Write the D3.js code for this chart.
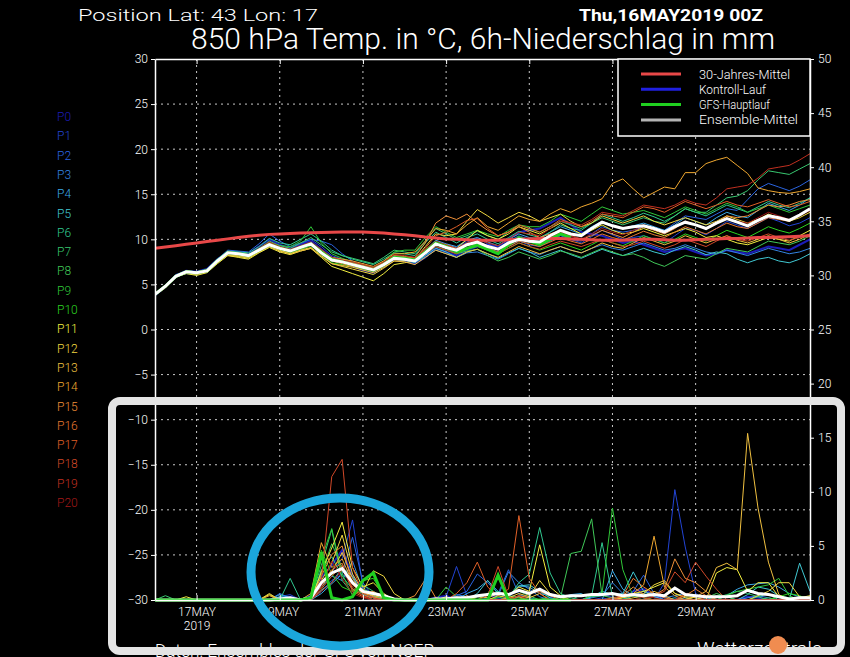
<!DOCTYPE html>
<html>
<head>
<meta charset="utf-8">
<script src="https://cdnjs.cloudflare.com/ajax/libs/d3/7.8.5/d3.min.js"></script>
<style>
body { margin: 0; background: #000; overflow: hidden; }
text { font-family: Roboto, "DejaVu Sans", sans-serif; font-weight: 300; }
</style>
</head>
<body>
<div id="chart"></div>
<script>
// run start, 6-hourly steps
var runStart = "16MAY2019 00"
var dayTicks = ["17MAY", "19MAY", "21MAY", "23MAY", "25MAY", "27MAY", "29MAY"]
var tempTicks = [-30, -25, -20, -15, -10, -5, 0, 5, 10, 15, 20, 25, 30]
var precTicks = [0, 5, 10, 15, 20, 25, 30, 35, 40, 45, 50]

var members = ["P0","P1","P2","P3","P4","P5","P6","P7","P8","P9","P10","P11","P12","P13","P14","P15","P16","P17","P18","P19","P20"]
var memberColors = ["#1c1cb8","#2244d4","#2a64e0","#3484e2","#3caae8","#40c8d2","#30c890","#38c870","#40c858","#30c838","#2cd420",
                    "#f4f040","#f0d840","#f0c040","#f0a830","#f09038","#e87830","#e06028","#d04828","#c03020","#a01818"]

var legendNames = ["30-Jahres-Mittel", "Kontroll-Lauf", "GFS-Hauptlauf", "Ensemble-Mittel"]
var legendColors = ["#e84848", "#2020e0", "#20d020", "#b4b4b4"]

// 850 hPa temperature, degC
var temp00 = [3.8,4.7,6.0,6.5,6.4,6.7,7.8,8.6, 8.6,8.4,9.2,10.0,9.4,9.0,9.4,9.8, 8.9,8.0,7.6,7.0,6.6,6.3,7.0,7.8, 7.6,7.3,8.0,9.0,8.6,8.2,8.8,9.2,
              9.4,9.2,10.0,10.8,11.0,11.2,11.8,12.4, 11.6,10.8,10.6,10.4,10.0,9.6,9.8,9.4, 9.0,8.6,8.8,9.0,8.6,8.2,8.4,8.8, 8.6,8.4,8.8,9.2,9.0,8.8,9.4,10.0]
var temp01 = [4.0,4.9,6.1,6.4,6.2,6.6,7.7,8.6, 8.5,8.3,9.0,9.7,9.3,9.0,9.5,10.0, 9.2,8.2,7.8,7.4,7.0,6.8,7.4,8.1, 8.0,7.8,8.8,9.8,9.4,9.1,9.7,10.1,
              9.5,9.0,9.8,10.4,10.0,9.6,10.0,10.5, 10.0,9.6,10.3,11.0,10.5,10.0,10.2,10.4, 10.0,9.6,10.4,11.2,11.0,10.5,11.2,12.0, 11.6,11.2,11.8,12.4,12.0,11.5,11.8,12.4]
var temp02 = [3.9,4.8,5.9,6.3,6.2,6.5,7.8,8.8, 8.7,8.6,9.5,10.6,9.8,9.2,9.6,10.0, 9.8,9.4,8.4,7.6,7.0,6.7,7.3,8.0, 7.8,7.5,8.2,9.2,8.8,8.5,9.0,9.5,
              9.0,8.6,9.2,9.8,9.4,9.2,9.8,10.4, 10.0,9.8,10.6,11.4,11.0,10.8,11.0,11.4, 11.2,11.0,11.8,12.6,12.4,12.2,12.8,13.4, 13.2,14.4,15.6,16.2,15.8,15.4,15.9,16.6]
var temp03 = [3.9,4.7,5.8,6.2,6.1,6.4,7.5,8.4, 8.3,8.1,8.7,9.3,8.9,8.6,9.0,9.4, 8.6,7.8,7.5,7.2,6.9,6.5,7.1,7.8, 7.7,7.5,8.0,8.8,8.4,8.0,8.5,8.6,
              8.2,7.8,8.4,9.0,8.6,8.3,8.8,9.2, 8.8,8.5,9.0,9.4,9.0,8.8,9.2,9.6, 9.2,8.8,9.0,9.4,9.0,8.6,8.4,8.8, 8.5,8.2,8.6,9.0,8.7,8.4,8.6,9.0]
var temp04 = [4.0,4.8,6.0,6.5,6.4,6.6,7.7,8.5, 8.4,8.3,8.9,9.5,9.1,8.8,9.2,9.6, 8.8,8.0,7.7,7.4,7.1,6.8,7.4,8.2, 8.0,7.8,8.8,9.9,9.5,9.2,9.9,10.2,
              9.7,9.3,10.0,10.6,10.2,10.0,10.8,11.4, 11.0,10.6,11.4,12.0,11.6,11.2,11.5,11.8, 11.4,11.0,11.6,12.4,12.0,11.6,12.4,13.0, 12.6,12.4,13.2,14.0,13.6,13.2,13.8,14.6]
var temp05 = [3.9,4.7,5.9,6.4,6.3,6.5,7.5,8.3, 8.2,8.0,8.7,9.4,8.9,8.5,8.9,9.3, 8.4,7.6,7.4,7.2,6.9,6.7,7.2,7.9, 7.7,7.4,8.2,9.0,8.6,8.0,8.6,8.9,
              8.4,7.9,8.5,9.0,8.6,8.0,8.4,8.8, 8.3,7.9,8.4,8.9,8.5,8.2,8.6,9.0, 8.6,8.3,8.8,9.2,8.8,8.3,8.6,8.4, 7.8,7.4,7.8,8.0,7.6,7.4,7.8,8.4]
var temp06 = [4.0,4.9,6.0,6.5,6.4,6.7,7.8,8.7, 8.6,8.5,9.2,10.1,9.6,9.4,10.0,10.6, 9.8,8.8,8.2,7.8,7.5,7.2,7.8,8.5, 8.4,8.2,9.6,10.8,10.2,9.6,10.2,10.6,
              10.0,9.5,10.2,10.9,10.5,10.2,10.8,11.6, 11.2,11.0,11.8,12.8,12.4,12.0,12.4,12.9, 12.5,12.0,12.6,13.4,13.0,12.6,13.2,13.8, 13.4,13.0,13.6,14.2,13.8,13.5,14.0,14.6]
var temp07 = [3.9,4.8,5.9,6.4,6.2,6.4,7.6,8.6, 8.5,8.3,9.0,9.8,9.3,9.0,9.6,10.2, 9.4,8.6,8.2,7.9,7.6,7.3,8.0,8.8, 8.6,8.4,9.8,11.2,10.6,10.0,10.4,10.9,
              10.4,10.0,10.8,11.6,11.2,10.8,11.4,12.0, 11.6,11.2,11.8,12.4,12.0,11.6,12.0,12.4, 12.0,11.8,12.6,13.4,13.0,13.0,13.8,14.6, 14.8,15.4,16.6,17.6,17.4,17.2,17.8,18.4]
var temp08 = [4.0,4.8,6.0,6.4,6.3,6.5,7.6,8.5, 8.4,8.2,8.8,9.5,9.0,8.7,9.1,9.5, 8.6,7.8,7.6,7.3,7.0,6.8,7.4,8.2, 8.1,7.9,8.7,9.6,9.0,8.4,8.7,8.9,
              8.2,7.6,8.0,8.6,8.2,7.8,8.2,8.7, 8.4,8.0,8.5,9.0,8.6,8.2,8.4,8.0, 7.4,7.0,7.6,8.2,8.0,7.8,8.4,9.0, 8.8,8.6,9.2,9.8,9.6,9.4,9.8,10.4]
var temp09 = [3.9,4.8,5.9,6.3,6.2,6.5,7.5,8.4, 8.3,8.2,8.9,9.6,9.3,9.2,9.8,11.4, 9.6,8.4,7.9,7.5,7.2,6.9,7.6,8.6, 8.8,8.8,10.2,11.4,10.8,10.2,10.6,11.0,
              10.6,10.3,11.0,11.6,11.4,11.4,12.0,12.8, 12.4,12.0,12.8,13.6,13.2,12.8,13.0,13.2, 12.8,12.4,13.0,13.6,13.2,12.8,13.4,14.0, 13.6,13.0,13.4,13.8,13.4,13.0,13.4,13.8]
var temp10 = [3.9,4.7,5.8,6.3,6.2,6.4,7.4,8.3, 8.2,8.0,8.6,9.2,8.8,8.5,8.9,9.3, 8.3,7.4,7.2,7.0,6.7,6.4,7.0,7.8, 7.7,7.5,8.4,9.2,8.8,8.4,8.9,9.2,
              8.8,8.4,9.0,9.6,9.2,8.8,9.2,9.6, 9.2,8.8,9.4,10.0,9.6,9.3,9.8,10.4, 10.0,9.6,10.0,10.6,10.2,9.8,10.4,11.0, 10.6,10.2,10.8,11.4,11.0,10.7,11.2,11.8]
var temp11 = [3.8,4.6,5.8,6.2,6.0,6.3,7.3,8.2, 8.0,7.8,8.5,9.1,8.6,8.3,8.7,9.0, 8.0,7.0,6.6,6.2,5.8,5.4,6.2,7.2, 7.4,7.6,8.6,9.6,9.4,9.0,10.0,11.0,
              10.4,10.0,10.6,11.4,11.0,10.6,11.2,11.8, 11.2,10.6,11.0,11.6,11.0,10.6,10.8,11.2, 10.8,10.4,10.8,11.2,10.8,10.2,10.4,10.0, 9.6,9.4,9.8,10.2,10.0,9.8,10.4,11.0]
var temp12 = [3.9,4.7,5.9,6.3,6.1,6.4,7.4,8.2, 8.1,7.9,8.6,9.2,8.8,8.4,8.8,9.1, 8.2,7.3,7.0,6.7,6.4,6.1,6.8,7.6, 7.6,7.8,9.2,10.6,10.4,10.6,12.0,13.3,
              12.6,11.8,12.4,13.0,12.6,12.0,12.4,12.8, 12.0,11.4,11.8,12.6,12.2,11.8,12.2,12.6, 12.0,11.6,12.0,12.4,12.0,11.6,12.0,12.6, 12.2,11.8,12.2,12.8,12.4,12.0,12.4,13.0]
var temp13 = [3.9,4.8,5.9,6.3,6.2,6.4,7.4,8.3, 8.2,8.0,8.6,9.2,8.7,8.4,8.7,9.0, 8.1,7.3,7.1,6.9,6.6,6.3,6.9,7.6, 7.5,7.2,8.0,8.8,8.4,8.0,8.6,8.9,
              8.4,8.0,8.6,9.2,8.8,8.4,8.8,9.2, 8.8,8.5,9.0,9.6,9.2,9.0,9.6,10.2, 9.8,9.4,9.8,10.4,10.0,9.6,10.0,10.4, 9.9,9.6,10.0,10.4,10.0,9.6,10.0,10.6]
var temp14 = [3.9,4.8,6.0,6.4,6.3,6.6,7.6,8.5, 8.4,8.2,8.8,9.4,9.0,8.7,9.1,9.5, 8.7,8.0,7.8,7.6,7.3,7.0,7.6,8.4, 8.4,8.6,9.8,11.2,11.0,10.6,11.6,12.4,
              11.4,11.0,11.8,12.6,12.2,12.0,12.8,13.4, 13.0,13.6,14.0,14.5,16.2,16.7,15.6,14.6, 15.2,15.8,15.6,17.4,17.4,18.4,18.8,19.1, 18.2,17.3,15.7,15.4,15.2,15.1,15.3,15.6]
var temp15 = [3.9,4.8,5.9,6.4,6.3,6.5,7.6,8.4, 8.3,8.1,8.7,9.3,8.9,8.6,9.0,9.4, 8.5,7.6,7.3,7.0,6.8,6.5,7.1,7.9, 7.9,8.0,9.6,11.8,12.6,12.2,12.8,11.8,
              11.0,10.4,10.8,11.4,10.8,10.2,10.6,11.0, 10.4,10.0,10.4,11.0,10.6,10.2,10.8,11.4, 11.0,10.6,11.2,12.0,11.6,11.2,11.8,12.6, 12.4,12.6,13.2,13.8,13.6,13.8,14.2,14.4]
var temp16 = [4.0,4.9,6.0,6.5,6.4,6.6,7.7,8.6, 8.5,8.3,8.9,9.6,9.1,8.8,9.2,9.6, 8.8,7.9,7.6,7.4,7.1,6.8,7.4,8.2, 8.1,7.9,8.8,9.7,9.2,8.8,9.3,9.6,
              9.0,8.6,9.2,9.8,9.5,9.2,9.7,10.2, 9.8,9.5,10.0,10.6,10.2,9.9,10.4,10.9, 10.5,10.2,10.8,11.4,11.0,10.6,11.2,11.8, 11.4,11.2,11.8,12.4,12.2,12.0,12.6,13.4]
var temp17 = [3.8,4.7,5.9,6.3,6.2,6.5,7.5,8.4, 8.3,8.1,8.8,9.5,9.1,8.8,9.2,9.6, 8.7,7.8,7.5,7.2,6.9,6.6,7.3,8.1, 8.0,7.9,9.0,10.4,10.8,11.4,12.1,12.3,
              11.2,10.4,10.8,11.6,11.2,10.8,11.4,12.2, 11.8,11.4,12.0,12.8,12.6,12.4,13.0,13.6, 13.4,13.0,13.6,14.2,13.8,13.4,13.8,14.2, 13.8,13.6,14.0,14.4,14.0,13.6,13.8,14.2]
var temp18 = [3.9,4.8,5.9,6.4,6.3,6.5,7.6,8.5, 8.4,8.2,8.8,9.4,9.0,8.7,9.1,9.4, 8.5,7.7,7.5,7.3,7.0,6.7,7.3,8.0, 7.9,7.7,8.4,9.2,8.8,8.4,9.0,9.3,
              8.8,8.4,9.0,9.6,9.2,8.9,9.4,9.8, 9.5,9.2,9.6,10.0,9.6,9.2,9.4,9.8, 9.4,9.0,9.4,10.0,9.6,9.2,9.8,10.4, 10.0,9.8,10.2,10.6,10.2,9.9,10.2,10.6]
var temp19 = [3.9,4.8,6.0,6.4,6.3,6.6,7.7,8.6, 8.5,8.3,9.0,9.7,9.2,8.9,9.3,9.7, 8.9,8.0,7.7,7.5,7.2,6.9,7.5,8.3, 8.2,8.0,8.9,9.8,9.4,9.0,9.6,10.0,
              9.6,9.3,10.0,10.8,10.6,10.4,11.2,12.0, 11.8,11.6,12.2,13.0,12.8,12.6,13.2,13.8, 13.6,13.4,13.8,14.4,14.0,13.8,14.6,15.6, 15.8,16.0,16.8,17.8,18.0,18.2,18.8,19.5]
var temp20 = [3.9,4.7,5.9,6.3,6.2,6.4,7.5,8.4, 8.3,8.1,8.7,9.3,8.9,8.6,9.0,9.4, 8.6,7.7,7.4,7.1,6.8,6.5,7.1,7.9, 7.8,7.6,8.6,9.6,9.2,8.8,9.4,9.8,
              9.3,9.0,9.6,10.2,9.9,9.6,10.2,10.8, 10.4,10.0,10.6,11.2,10.8,10.5,11.0,11.6, 11.2,10.8,11.4,12.0,11.6,11.2,11.8,12.4, 12.0,11.8,12.4,13.0,12.6,12.2,12.6,13.2]
var tempGfs = [3.9,4.8,5.9,6.4,6.3,6.5,7.6,8.5, 8.4,8.2,8.8,9.4,9.0,8.7,9.1,9.5, 8.6,7.8,7.5,7.2,6.9,6.6,7.2,8.0, 7.9,7.7,8.6,9.6,9.2,8.6,9.0,9.4,
               8.9,8.4,9.4,10.2,9.8,9.4,10.0,10.6, 10.2]
var tempMean = [3.9,4.8,5.9,6.4,6.3,6.5,7.6,8.5, 8.4,8.2,8.8,9.4,9.0,8.7,9.1,9.5, 8.5,7.7,7.5,7.2,6.9,6.6,7.2,7.9, 7.8,7.6,8.5,9.5,9.1,8.8,9.4,9.7,
                9.2,8.9,9.6,10.0,9.8,9.7,10.4,11.0, 10.6,10.4,11.2,11.9,11.5,11.2,11.4,11.5, 11.2,10.8,11.4,11.9,11.6,11.2,11.8,12.3, 11.9,11.5,12.1,12.6,12.4,12.1,12.7,13.4]
var tempClim = [9.0,9.15,9.3,9.45,9.6,9.75,9.9,10.05, 10.2,10.35,10.45,10.55,10.6,10.65,10.7,10.72, 10.75,10.78,10.8,10.8,10.8,10.75,10.7,10.6, 10.5,10.4,10.25,10.15,10.05,10.0,9.95,9.9,
                9.9,9.9,9.95,10.0,10.05,10.1,10.1,10.1, 10.05,10.0,9.95,9.9,9.9,9.9,9.95,10.0, 10.0,9.95,9.9,9.9,9.95,10.0,10.05,10.1, 10.1,10.15,10.2,10.2,10.25,10.3,10.35,10.4]

// 6h precipitation, mm
var prec00 = [0,0,0,0,0,0,0,0, 0,0,0,0,0.2,0.3,0,0.4, 2.1,3.2,4.6,2.2,0.8,0.3,0,0, 0,0,0,0.2,0.4,0,0,0.3, 0.5,0.2,0,0.3,0,0,0.2,0, 0,0,0.3,0.6,0.2,0,0.8,1.0, 0.4,0,0,0,0,0.2,0,0, 0,0.3,0.2,0,0,0,0,0]
var prec01 = [0,0,0,0,0,0,0,0, 0,0,0,0,0.3,0.5,0,0.2, 1.4,2.6,3.8,7.4,1.2,0.4,0,0, 0,0,0,0,0.3,3.1,0.4,0, 0.2,0,0.4,0.3,0,0,0,0, 0,0,0,0.2,0,0,0.4,0.2, 0,1.6,10.2,4.9,0.6,0,0,0, 0,0,0,0,0,0,0,0]
var prec02 = [0,0,0,0,0,0,0,0, 0,0,0,0,0.6,0.2,0,0, 0.8,1.8,2.4,5.8,1.6,0.3,0.2,0, 0,0,0,0,0,0.4,0.8,2.4, 1.6,0.6,2.8,0.5,0.2,0,0,0, 0,0,0,0,0,0,0.8,2.3, 0.6,0,0,0,0,0,0,0, 0,0,0,0,0,0,0,0]
var prec03 = [0,0,0,0,0,0,0,0, 0,0,0,0,0.2,0,0,0.3, 1.2,2.2,1.8,3.6,0.9,0.4,0,0, 0,0,0,0.2,0,0.5,0.3,0, 0.6,0.4,2.6,1.6,1.0,0.3,0,0, 0,0,0.2,0.4,1.6,0.6,0.4,0.8, 0.5,0.2,0.4,0.6,0.4,0,0,0, 0,0.2,0.4,0.2,0,0,0,0]
var prec04 = [0,0,0,0,0,0,0,0, 0,0,0,0,0.5,0.2,0,0, 0.6,1.5,2.4,1.6,0.6,0.2,0,0, 0,0,0,0,0.2,0,0.6,1.0, 1.8,0.8,0.4,1.3,1.2,0.6,0.4,0.2, 0.5,0.6,0,0,2.7,1.0,0.4,0.6, 0.3,0,0,0.2,0,0,0,0.4, 1.0,1.4,1.5,1.6,1.2,0.6,0.3,0.2]
var prec05 = [0,0,0,0,0,0,0,0, 0,0,0,0,0.3,0.2,0,0, 0.9,1.6,3.0,2.2,0.5,0.2,0,0, 0,0,0,0,0,0,0,0.6, 1.8,0.6,0.3,1.3,1.4,0.8,0.2,0, 0,0,0.3,0.8,0.5,0.6,2.6,0.8, 0.3,0,0.2,0,0,0,0,0, 0,0.5,1.2,1.0,0.4,0,3.4,0.8]
var prec06 = [0,0,0,0,0,0,0,0, 0,0,0,0,0,2.0,0,0, 2.8,4.0,2.2,1.0,0.6,0,0,0, 0,0,0,0,0,0,0,0.3, 0.5,0.8,0.2,1.6,2.4,6.7,2.5,0.6, 0.2,0,0.4,5.3,0.3,0,0.4,0.2, 0,0,0,0,0,0,0.4,0.3, 0,0,0.3,0.6,0,0,0,0]
var prec07 = [0,0.4,0,0,0,0,0,0, 0,0,0,0,0,0,0,0.2, 3.2,6.5,1.8,0.6,1.4,0.8,0.2,0, 0,0,0,0,0.2,0,0,0, 0,0.2,0.6,0.8,0.4,0,0,0, 0,0.5,0.3,0.4,0.6,0.2,0,0, 0,0,0,0,0,0,0.2,0.5, 0.8,0.6,0.3,0,0.4,0.2,0,0]
var prec08 = [0,0,0,0,0,0,0,0, 0,0,0,0,0,0,0,0, 2.4,5.2,3.0,1.6,0.8,0.4,0,0, 0,0,0,0,0,0,0,0, 0,0,0.2,0,0,0,0.4,0.2, 4.3,4.5,7.5,0.4,0.2,0,0,0, 0,0,0,0,0,0.2,0.6,0.3, 0,0,0,0.2,0,0,0,0]
var prec09 = [0,0,0,0,0,0,0,0, 0,0,0,0,0,0,0,0, 3.8,6.6,2.4,0.4,1.0,0.6,0,0, 0,0,0,0,1.2,0.3,0,0, 0.6,2.0,0.4,0.2,0,0,0,0, 0,0,0.4,0.6,8.5,2.8,0.3,0, 0,0,0,0,0,0,0,0.4, 0.8,1.0,1.2,1.4,2.0,0.4,0,0]
var prec10 = [0,0,0,0,0,0,0,0, 0,0,0,0,0,0,0,0.3, 4.6,2.4,1.2,0.8,1.8,2.0,0.4,0, 0,0,0,0,0,0,0,0, 0,0.3,0,0,0,0,0,0, 0,0,0,0,0,0.2,0.5,0.3, 0,0,0,0,0,0,0,0, 0,0,0,0,0.3,0.6,0.4,0]
var prec11 = [0,0,0,0.3,0,0,0,0, 0,0,0,0.5,0,0,0,0, 2.6,4.8,7.2,3.0,1.2,1.6,0.6,0, 0,0,0,0,0,0,0,0.3, 0.2,0.6,0.4,1.2,0.8,5.1,1.2,0.4, 0,0,0,0,0,0.3,0.6,0.8, 1.2,1.6,0.6,0.3,0.2,0,2.5,3.0, 2.8,0.8,1.6,1.6,0.3,0,0.2,0.4]
var prec12 = [0,0,0,0,0,0,0,0, 0,0,0,0.6,0,0,0,0, 1.8,3.4,6.0,2.4,0.8,2.7,2.2,0.6, 0,0,0,0,0.3,0,0,0, 0,0.4,0.2,0.6,0.3,1.8,0.6,0.2, 0,0,0,0,0,0.2,0.4,0.6, 1.4,1.8,0.6,0.2,0,0,0,0, 0,0,0.4,0.8,1.6,1.6,0.3,0]
var prec13 = [0,0,0,0,0,0,0,0, 0,0,0,0,0,0,0,0, 1.2,2.6,4.4,2.0,0.6,0.4,0.2,0, 0,0,0,0,0,0,0,0, 0,0,0,0.4,0.2,0.6,0,0, 0,0,0,0,0,0,0.2,0.4, 0.8,0.4,0,0,0.3,0.8,3.0,3.4, 2.8,15.4,8.5,3.5,0.5,0,0,0]
var prec14 = [0,0,0,0,0,0,0,0, 0,0,0,0.4,0,0,0,0.6, 5.3,3.0,3.8,1.6,0.8,0.3,0,0, 0,0,0,0,0,0,0.4,0, 0,0,0.2,0.3,0,0,0,0, 0,0,0,0,0,0.3,0.6,1.4, 5.9,1.2,0.4,0,0,0,0,0, 0,0,0,0,0,0,0,0]
var prec15 = [0,0,0,0,0,0,0,0, 0,0,0,0,0,0,0,0, 2.2,4.2,5.0,1.4,0.6,0.8,0.2,0, 0,0.4,1.9,0.2,0,0,0,0, 0,0,0,0,0,0,0,0, 0,0,0,0,0,0.4,1.2,0.5, 0.4,1.0,3.8,2.0,1.6,0.8,0,0, 0,0,0,0,0,0,0,0]
var prec16 = [0,0,0,0,0,0,0,0, 0,0,0,0,0,0,0,0.2, 1.6,2.8,3.4,1.0,0.4,0.2,0,0, 0,0,0,0,0,0,0,0, 0,0,0,0,0.6,0.8,0.4,0, 0,0,0,0,0,0.4,2.0,1.2, 0.6,0.2,0,0.4,1.0,0.4,0,0, 0,0,0,0,0,0,0,0]
var prec17 = [0,0,0,0,0,0,0,0, 0,0,0,0,0,0,0,0, 1.0,2.2,3.2,0.8,0.3,0,0,0, 0,0,0,0,0,0.6,1.6,3.5, 1.2,0.4,1.0,7.8,2.0,0.6,0,0, 0,0,0,0,0.2,0.4,0.6,0.2, 0,0,0,0,0,0,0,0, 0,0,0,0,0,0,0,0]
var prec18 = [0,0,0,0,0,0,0,0, 0,0,0,0,0,0,0,0, 1.8,11.4,13.0,3.0,0.6,0.2,0,0, 0,0,0,0,0,0,0,0, 0.4,3.1,0.3,0,0,0,0,0, 0,0,0,0,0,0,0,0, 0.4,0.8,2.6,1.6,3.5,2.2,1.0,0, 0,0,0,0,0,0,0,0]
var prec19 = [0,0,0,0,0,0,0,0, 0,0,0,0,0,0,0,0, 0.8,1.6,2.8,1.2,0.4,0,0,0, 0,0,0,0,0,0.3,0,0, 0,0,0,0.4,0,0,0,0, 0,0,0,0,0,0,0,0, 0,0,0,0.6,0.4,0,0,0, 0,0,0,0,0,0,0,0]
var prec20 = [0,0,0,0,0,0,0,0, 0,0,0,0,0,0,0,0, 1.2,3.6,2.0,0.6,0.2,0,0,0, 0,0,0,0,0,0,0,0, 0,0,0,0,0,0,0,0, 0,0,0,0,0,0,0,0.3, 0.2,0,0,0,0,0,0,0, 0,0,0,0,0,0,0,0]
var precGfs = [0,0,0,0,0,0,0,0, 0,0,0,0,0,0,0,0.2, 4.4,0.2,0,0.3,1.8,2.5,0.2,0, 0,0,0,0,0,0,0,0, 0,2.3,0,0,0,0,0,0, 0]
var precMean = [0,0,0,0,0,0,0,0, 0,0,0,0,0.1,0.2,0,0.2, 1.6,2.5,2.9,1.6,0.8,0.6,0.4,0.1, 0,0,0,0.1,0.1,0.2,0.2,0.4, 0.5,0.6,0.5,0.9,0.6,1.0,0.5,0.3,
                0.4,0.4,0.5,0.5,0.6,0.4,0.5,0.4, 0.5,0.4,1.1,0.5,0.4,0.3,0.3,0.3, 0.4,0.9,0.6,0.5,0.3,0.1,0.2,0.2]

var tempMembers = [temp00,temp01,temp02,temp03,temp04,temp05,temp06,temp07,temp08,temp09,temp10,
                   temp11,temp12,temp13,temp14,temp15,temp16,temp17,temp18,temp19,temp20]
var precMembers = [prec00,prec01,prec02,prec03,prec04,prec05,prec06,prec07,prec08,prec09,prec10,
                   prec11,prec12,prec13,prec14,prec15,prec16,prec17,prec18,prec19,prec20]

var w = 850, h = 657
var pLeft = 155, pRight = 810, pTop = 59, pBottom = 600   // plot box

var svg = d3.select("#chart")
    .append("svg")
    .attr("width", w)
    .attr("height", h)
    .style("background-color", "black")

var t0 = d3.utcParse("%d%b%Y %H")(runStart)
var stepMs = 6 * 3600 * 1000
var x = d3.scaleUtc()
    .domain([t0, new Date(t0.getTime() + (temp00.length - 1) * stepMs)])
    .range([pLeft, pRight])
var yT = d3.scaleLinear().domain([-30, 30]).range([pBottom, pTop])
var yP = d3.scaleLinear().domain([0, 50]).range([pBottom, pTop])

var tickDates = dayTicks.map(function(d){ return d3.utcParse("%d%b%Y")(d + "2019") })

function tAt(i){ return new Date(t0.getTime() + i * stepMs) }
var lineT = d3.line().x(function(d, i){ return x(tAt(i)) }).y(function(d){ return yT(d) })
var lineP = d3.line().x(function(d, i){ return x(tAt(i)) }).y(function(d){ return yP(d) })

svg.append("clipPath").attr("id", "plot")
    .append("rect").attr("x", pLeft).attr("y", pTop - 2).attr("width", pRight - pLeft).attr("height", pBottom - pTop + 4)

// dotted grid
var grid = svg.append("g").attr("stroke", "#c8c8c8").attr("stroke-width", 1).attr("stroke-dasharray", "2,4")
grid.selectAll("line.h")
    .data(tempTicks.filter(function(d){ return d > -30 && d < 30 }))
    .enter().append("line")
    .attr("x1", pLeft).attr("x2", pRight)
    .attr("y1", function(d){ return yT(d) }).attr("y2", function(d){ return yT(d) })
grid.selectAll("line.v")
    .data(tickDates)
    .enter().append("line")
    .attr("y1", pTop).attr("y2", pBottom)
    .attr("x1", function(d){ return x(d) }).attr("x2", function(d){ return x(d) })

var plot = svg.append("g").attr("clip-path", "url(#plot)").attr("fill", "none")

// temperature spaghetti
plot.selectAll("path.tm")
    .data(tempMembers)
    .enter().append("path")
    .attr("d", lineT)
    .attr("stroke", function(d, i){ return memberColors[i] })
    .attr("stroke-width", function(d, i){ return i == 0 ? 2 : 1 })

// precipitation spaghetti
plot.selectAll("path.pm")
    .data(precMembers)
    .enter().append("path")
    .attr("d", lineP)
    .attr("stroke", function(d, i){ return memberColors[i] })
    .attr("stroke-width", function(d, i){ return i == 0 ? 2 : 1 })

plot.append("path").attr("d", lineT(tempGfs)).attr("stroke", legendColors[2]).attr("stroke-width", 3)
plot.append("path").attr("d", lineT(tempClim)).attr("stroke", legendColors[0]).attr("stroke-width", 3)
plot.append("path").attr("d", lineT(tempMean)).attr("stroke", "#ffffff").attr("stroke-width", 3)
plot.append("path").attr("d", lineP(precMean)).attr("stroke", "#ffffff").attr("stroke-width", 3)
// main run sits on top of the mean in the rain panel
plot.append("path").attr("d", lineP(precGfs)).attr("stroke", legendColors[2]).attr("stroke-width", 3)

// axes
function minus(d){ return d < 0 ? "\u2212" + Math.abs(d) : d }
var axL = svg.append("g").attr("transform", "translate(" + pLeft + ",0)")
    .call(d3.axisLeft(yT).tickValues(tempTicks).tickSize(4).tickSizeOuter(0).tickPadding(3).tickFormat(minus))
var axR = svg.append("g").attr("transform", "translate(" + pRight + ",0)")
    .call(d3.axisRight(yP).tickValues(precTicks).tickSize(4).tickSizeOuter(0).tickPadding(4))
var axB = svg.append("g").attr("transform", "translate(0," + pBottom + ")")
    .call(d3.axisBottom(x).tickValues(tickDates).tickSize(-5).tickSizeOuter(0).tickPadding(7)
        .tickFormat(function(d, i){ return dayTicks[i] }))
var axT = svg.append("g").attr("transform", "translate(0," + pTop + ")")
    .call(d3.axisTop(x).tickValues(tickDates).tickSize(-5).tickSizeOuter(0).tickFormat(""))

svg.selectAll(".domain").attr("stroke", "white").attr("stroke-width", 1.5)
svg.selectAll(".tick line").attr("stroke", "white")
svg.selectAll(".tick text").attr("fill", "white").style("font-size", "12px")
    .style("font-family", "Roboto, sans-serif").style("font-weight", 300)
axB.select(".tick text").append("tspan").attr("x", 0).attr("dy", "1.2em").text("2019")

// legend
var lg = svg.append("g")
lg.append("rect").attr("x", 618).attr("y", pTop).attr("width", pRight - 618).attr("height", 77)
    .attr("fill", "black").attr("stroke", "white").attr("stroke-width", 1.5)
lg.selectAll("line")
    .data(legendNames)
    .enter().append("line")
    .attr("x1", 641).attr("x2", 681)
    .attr("y1", function(d, i){ return 74 + i * 15.3 }).attr("y2", function(d, i){ return 74 + i * 15.3 })
    .attr("stroke", function(d, i){ return legendColors[i] }).attr("stroke-width", 3)
lg.selectAll("text")
    .data(legendNames)
    .enter().append("text")
    .attr("x", 699).attr("y", function(d, i){ return 74 + i * 15.3 + 4.5 })
    .attr("fill", "white").style("font-size", "13px")
    .attr("textLength", function(d, i){ return [91, 67, 71, 99][i] }).attr("lengthAdjust", "spacingAndGlyphs")
    .text(function(d){ return d })

// member labels on the left
svg.selectAll("text.mem")
    .data(members)
    .enter().append("text")
    .attr("x", 57).attr("y", function(d, i){ return 121 + i * 19.3 })
    .attr("fill", function(d, i){ return memberColors[i] })
    .style("font-size", "12px")
    .text(function(d){ return d })

// headings
svg.append("text").attr("x", 78).attr("y", 21).attr("fill", "white").style("font-size", "17px")
    .attr("textLength", 240).attr("lengthAdjust", "spacingAndGlyphs")
    .text("Position  Lat: 43 Lon: 17")
svg.append("text").attr("x", 579).attr("y", 21).attr("fill", "white").style("font-size", "17px").style("font-weight", "bold")
    .attr("textLength", 184).attr("lengthAdjust", "spacingAndGlyphs")
    .text("Thu,16MAY2019 00Z")
svg.append("text").attr("x", 191).attr("y", 49).attr("fill", "white").style("font-size", "29px")
    .attr("textLength", 584).attr("lengthAdjust", "spacingAndGlyphs")
    .text("850 hPa Temp. in \u00b0C, 6h-Niederschlag in mm")

// footer (partly hidden under the frame)
svg.append("text").attr("x", 155).attr("y", 657).attr("fill", "white").style("font-size", "18px")
    .attr("textLength", 279).attr("lengthAdjust", "spacingAndGlyphs")
    .text("Daten: Ensembles der GFS von NCEP")
svg.append("text").attr("x", 697).attr("y", 655).attr("fill", "white").style("font-size", "18px")
    .attr("textLength", 125).attr("lengthAdjust", "spacingAndGlyphs")
    .text("Wetterzentrale")

// grey frame around the precipitation panel
svg.append("rect").attr("x", 112).attr("y", 401).attr("width", 729).attr("height", 250).attr("rx", 8)
    .attr("fill", "none").attr("stroke", "#e4e4e4").attr("stroke-width", 8)

// blue marker ellipse
svg.append("ellipse").attr("cx", 340).attr("cy", 572).attr("rx", 89).attr("ry", 74)
    .attr("fill", "none").attr("stroke", "#1ba6dc").attr("stroke-width", 9)

svg.append("circle").attr("cx", 778).attr("cy", 645).attr("r", 9).attr("fill", "#f08c50")
</script>
</body>
</html>
